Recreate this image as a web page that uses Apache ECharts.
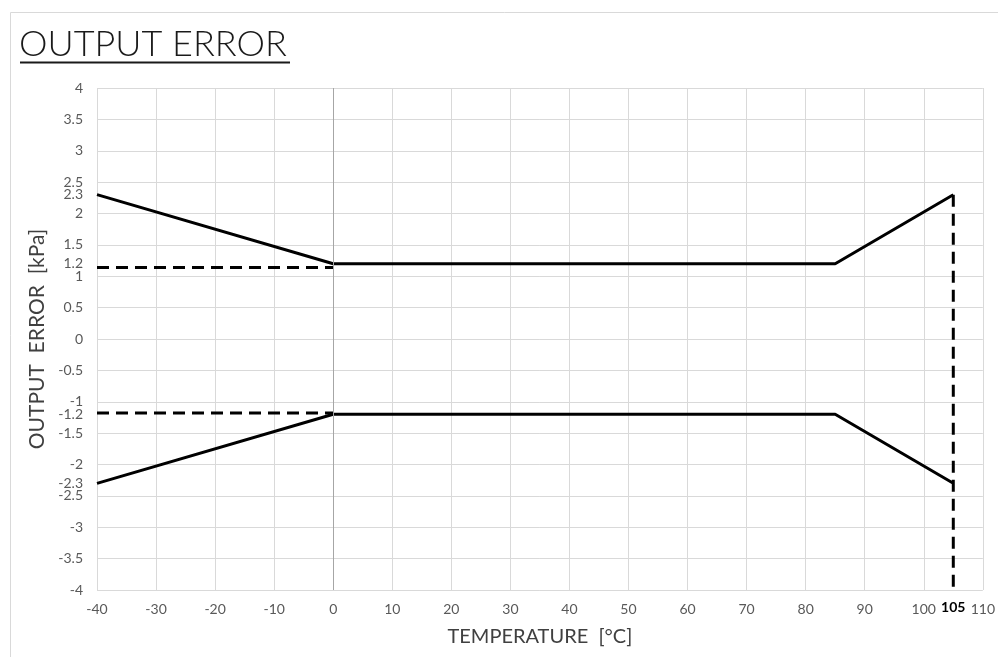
<!DOCTYPE html>
<html>
<head>
<meta charset="utf-8">
<script src="https://cdn.jsdelivr.net/npm/echarts@6/dist/echarts.min.js"></script>
<style>
  html, body { margin: 0; padding: 0; background: #fff; }
  #chart { width: 998px; height: 657px; }
</style>
</head>
<body>
<div id="chart"></div>
<script>
// limit lines (temperature in degC, error in kPa)
const temps = [-40, 0, 85, 105];
const upperErr = [2.3, 1.2, 1.2, 2.3];
const lowerErr = [-2.3, -1.2, -1.2, -2.3];
// dashed helper lines
const dashTemps = [-40, 0];
const dashUpper = [1.14, 1.14];
const dashLower = [-1.18, -1.18];
const endTemps = [105, 105];
const endErr = [2.3, -3.95];
// extra labels
const extraYLabels = [2.3, 1.2, -1.2, -2.3];
const extraXLabels = [105];

const font = 'Lato, "DejaVu Sans", sans-serif';
const labelColor = '#595959';

function pairs(xs, ys) {
  return xs.map(function(x, i) { return [x, ys[i]]; });
}

let chart = echarts.init(document.getElementById('chart'));
let option = {
  animation: false,
  textStyle: { fontFamily: font },
  graphic: [
    {
      type: 'rect', silent: true,
      shape: { x: 10.5, y: 12.5, width: 1000, height: 700 },
      style: { fill: 'none', stroke: '#d9d9d9', lineWidth: 1 }
    },
    {
      type: 'text', left: 19, top: 26,
      style: { text: 'OUTPUT ERROR', font: '300 36px ' + font, fill: '#1a1a1a' }
    },
    {
      type: 'line', silent: true,
      shape: { x1: 20, y1: 62.5, x2: 290, y2: 62.5 },
      style: { stroke: '#1a1a1a', lineWidth: 2 }
    }
  ],
  grid: { left: 97, right: 15, top: 88, bottom: 67 },
  xAxis: [
    {
      type: 'value', min: -40, max: 110, interval: 10,
      name: 'TEMPERATURE  [°C]', nameLocation: 'middle', nameGap: 37,
      nameTextStyle: { fontSize: 20, color: '#404040', fontFamily: font },
      axisLine: { show: false }, axisTick: { show: false },
      axisLabel: { color: labelColor, fontSize: 14, margin: 12 },
      splitLine: { lineStyle: { color: '#d9d9d9' } }
    },
    {
      type: 'value', min: -40, max: 110, position: 'bottom',
      axisLine: { show: false }, axisTick: { show: false }, splitLine: { show: false },
      axisLabel: { customValues: extraXLabels, color: '#000', fontWeight: 'bold', fontSize: 14, margin: 10 }
    }
  ],
  yAxis: [
    {
      type: 'value', min: -4, max: 4, interval: 0.5,
      name: 'OUTPUT  ERROR  [kPa]', nameLocation: 'middle', nameGap: 48,
      nameTextStyle: { fontSize: 21, color: '#404040', fontFamily: font },
      axisLine: { show: false }, axisTick: { show: false },
      axisLabel: { color: labelColor, fontSize: 14, margin: 14 },
      splitLine: { lineStyle: { color: '#d9d9d9' } }
    },
    {
      type: 'value', min: -4, max: 4, position: 'left',
      axisLine: { show: false }, axisTick: { show: false }, splitLine: { show: false },
      axisLabel: { customValues: extraYLabels, color: labelColor, fontSize: 14, margin: 14 }
    }
  ],
  series: [
    {
      type: 'line', data: pairs(temps, upperErr), symbol: 'none',
      lineStyle: { color: '#000', width: 3 },
      markLine: {
        silent: true, symbol: 'none', label: { show: false },
        lineStyle: { color: '#a6a6a6', width: 1, type: 'solid' },
        data: [{ xAxis: 0 }]
      }
    },
    {
      type: 'line', data: pairs(temps, lowerErr), symbol: 'none',
      lineStyle: { color: '#000', width: 3 }
    },
    {
      type: 'line', data: pairs(dashTemps, dashUpper), symbol: 'none',
      lineStyle: { color: '#000', width: 3, type: [12, 7] }
    },
    {
      type: 'line', data: pairs(dashTemps, dashLower), symbol: 'none',
      lineStyle: { color: '#000', width: 3, type: [12, 7] }
    },
    {
      type: 'line', data: pairs(endTemps, endErr), symbol: 'none',
      lineStyle: { color: '#000', width: 3, type: [12, 7] }
    }
  ]
};
chart.setOption(option);
</script>
</body>
</html>
